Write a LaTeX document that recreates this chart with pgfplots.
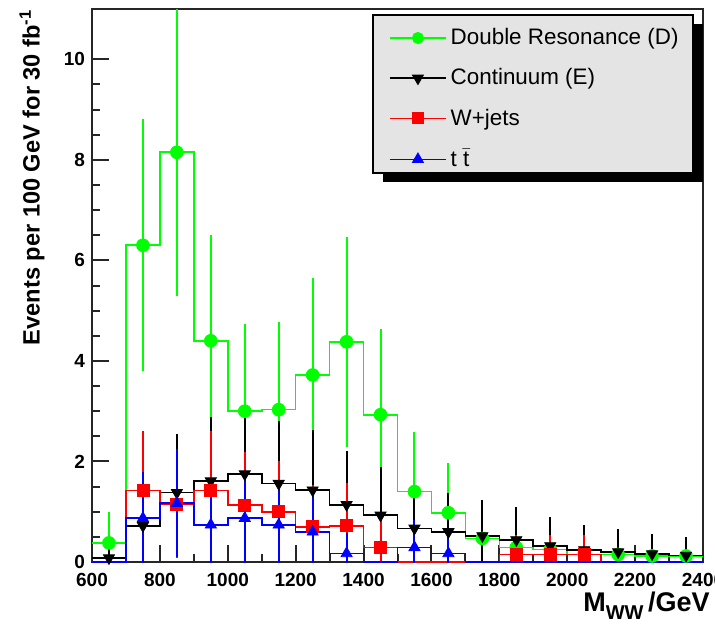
\documentclass[border=0pt]{standalone}
\usepackage{fontspec}
\setmainfont{Liberation Sans}
\usepackage{pgfplots}
\pgfplotsset{compat=1.18}
\usepackage{pgfplotstable}
\definecolor{cgreen}{RGB}{0,255,0}
\definecolor{cred}{RGB}{255,0,0}
\definecolor{cblue}{RGB}{0,0,255}
\definecolor{legfill}{RGB}{228,228,228}

% points: bin centre, value, error
\pgfplotstableread{
x y e
650 0.38 0.62
750 6.30 2.51
850 8.15 2.85
950 4.40 2.10
1050 3.00 1.73
1150 3.03 1.74
1250 3.72 1.93
1350 4.38 2.09
1450 2.93 1.71
1550 1.40 1.18
1650 0.98 0.99
1750 0.47 0.69
1850 0.29 0.54
1950 0.25 0.50
2050 0.15 0.39
2150 0.15 0.39
2250 0.12 0.35
2350 0.12 0.35
}\greenpts
\pgfplotstableread{
x y e
650 0.08 0.28
750 0.72 0.85
850 1.38 1.17
950 1.61 1.27
1050 1.75 1.32
1150 1.56 1.25
1250 1.43 1.20
1350 1.14 1.07
1450 0.93 0.96
1550 0.67 0.82
1650 0.60 0.77
1750 0.52 0.72
1850 0.44 0.66
1950 0.32 0.57
2050 0.24 0.49
2150 0.20 0.45
2250 0.16 0.40
2350 0.13 0.36
}\blackpts
\pgfplotstableread{
x y e
750 1.42 1.19
850 1.15 1.07
950 1.42 1.19
1050 1.13 1.06
1150 1.00 1.00
1250 0.70 0.84
1350 0.72 0.85
1450 0.29 0.54
1850 0.15 0.39
1950 0.15 0.39
2050 0.15 0.39
}\redpts
\pgfplotstableread{
x y e
750 0.87 0.93
850 1.17 1.08
950 0.74 0.86
1050 0.87 0.93
1150 0.74 0.86
1250 0.60 0.77
1350 0.17 0.41
1550 0.29 0.54
1650 0.17 0.41
}\bluepts

\begin{document}
\begin{tikzpicture}
\begin{axis}[
  at={(0,0)}, anchor=south west,
  scale only axis, width=305.5pt, height=276.5pt,
  xmin=600, xmax=2400, ymin=0, ymax=11,
  xtick={600,800,...,2400}, ytick={0,2,...,10},
  minor x tick num=1, minor y tick num=3,
  tick align=inside, xtick pos=left, ytick pos=left,
  major tick length=8.5pt, minor tick length=4pt,
  axis line style={line width=1.2pt, black!85},
  every tick/.style={line width=1pt, black!85},
  /pgf/number format/assume math mode=true,
  /pgf/number format/1000 sep={},
  ticklabel style={font=\bfseries\fontsize{9.5}{11}\selectfont},
  xticklabel style={yshift=-2pt},
  xlabel={M\raisebox{-0.55ex}{\fontsize{10}{10}\selectfont WW}\,/GeV},
  xlabel style={font=\bfseries\fontsize{13.5}{15}\selectfont, at={(axis description cs:1,0)}, anchor=north east, yshift=-15pt, xshift=3.5pt, inner sep=0pt},
  ylabel={Events per 100 GeV for 30 fb\textsuperscript{-1}},
  ylabel style={font=\bfseries\fontsize{11.8}{13}\selectfont, at={(axis description cs:-0.098,1)}, anchor=east, inner sep=0pt},
  legend cell align=left,
  legend image code/.code={\draw[mark repeat=2,mark phase=2] plot coordinates {(-1pt,0pt)(13pt,0pt)(27pt,0pt)};},
  legend style={at={(0.9836,0.9892)}, anchor=north east, fill=none, draw=none,
    font=\fontsize{11.2}{13}\selectfont, row sep=6.5pt, inner xsep=5pt, inner ysep=4.5pt},
]
% legend frame and shadow
\fill[black] (rel axis cs:0.4763,0.6871) rectangle (rel axis cs:1.0,0.9729);
\filldraw[fill=legfill, draw=black, line width=0.8pt] (rel axis cs:0.4599,0.7034) rectangle (rel axis cs:0.9836,0.9892);

\addlegendimage{color=cgreen, line width=0.8pt, mark=*, mark size=2.6pt, mark options={solid}}
\addlegendentry{Double Resonance (D)}
\addlegendimage{color=black, line width=0.8pt, mark=triangle*, mark size=2.8pt, mark options={solid, rotate=180}}
\addlegendentry{Continuum (E)}
\addlegendimage{color=cred, line width=0.8pt, mark=square*, mark size=2.6pt, mark options={solid}}
\addlegendentry{W+jets}
\addlegendimage{color=cblue, line width=0.8pt, mark=triangle*, mark size=2.8pt, mark options={solid}}
\addlegendentry{t $\bar{\mbox{t}}$}

% Double resonance
\addplot[color=cgreen, line width=0.8pt, const plot mark left, forget plot] coordinates {
(600,0.38) (700,6.30) (800,8.15) (900,4.40) (1000,3.00) (1100,3.03) (1200,3.72) (1300,4.38) (1400,2.93)
(1500,1.40) (1600,0.98) (1700,0.47) (1800,0.29) (1900,0.25) (2000,0.15) (2100,0.15) (2200,0.12) (2300,0.12) (2400,0.12)};
\addplot[cgreen, only marks, mark=*, mark size=3.2pt, forget plot,
  error bars/.cd, y dir=both, y explicit, error mark=none, error bar style={line width=1pt, cgreen}]
  table[x=x, y=y, y error=e] {\greenpts};

% Continuum
\addplot[color=black, line width=0.8pt, const plot mark left, forget plot] coordinates {
(600,0.08) (700,0.72) (800,1.38) (900,1.61) (1000,1.75) (1100,1.56) (1200,1.43) (1300,1.14) (1400,0.93)
(1500,0.67) (1600,0.60) (1700,0.52) (1800,0.44) (1900,0.32) (2000,0.24) (2100,0.20) (2200,0.16) (2300,0.13) (2400,0.13)};
\addplot[black, only marks, mark=triangle*, mark size=3.2pt, mark options={rotate=180}, forget plot,
  error bars/.cd, y dir=both, y explicit, error mark=none, error bar style={line width=1pt, black}]
  table[x=x, y=y, y error=e] {\blackpts};

% W+jets
\addplot[color=cred, line width=0.8pt, const plot mark left, forget plot] coordinates {
(600,0) (700,1.42) (800,1.15) (900,1.42) (1000,1.13) (1100,1.00) (1200,0.70) (1300,0.72) (1400,0.29)
(1500,0) (1600,0) (1700,0) (1800,0.15) (1900,0.15) (2000,0.15) (2100,0) (2200,0) (2300,0) (2400,0)};
\addplot[cred, only marks, mark=square*, mark size=3pt, forget plot,
  error bars/.cd, y dir=both, y explicit, error mark=none, error bar style={line width=1pt, cred}]
  table[x=x, y=y, y error=e] {\redpts};

% ttbar
\addplot[color=cblue, line width=0.8pt, const plot mark left, forget plot] coordinates {
(600,0) (700,0.87) (800,1.17) (900,0.74) (1000,0.87) (1100,0.74) (1200,0.60) (1300,0.17) (1400,0)
(1500,0.29) (1600,0.17) (1700,0) (1800,0) (1900,0) (2000,0) (2100,0) (2200,0) (2300,0) (2400,0)};
\addplot[cblue, only marks, mark=triangle*, mark size=3.2pt, forget plot,
  error bars/.cd, y dir=both, y explicit, error mark=none, error bar style={line width=1pt, cblue}]
  table[x=x, y=y, y error=e] {\bluepts};
\end{axis}
\pgfresetboundingbox
\path (-46pt,-33pt) rectangle (311.5pt,281pt);
\end{tikzpicture}
\end{document}
